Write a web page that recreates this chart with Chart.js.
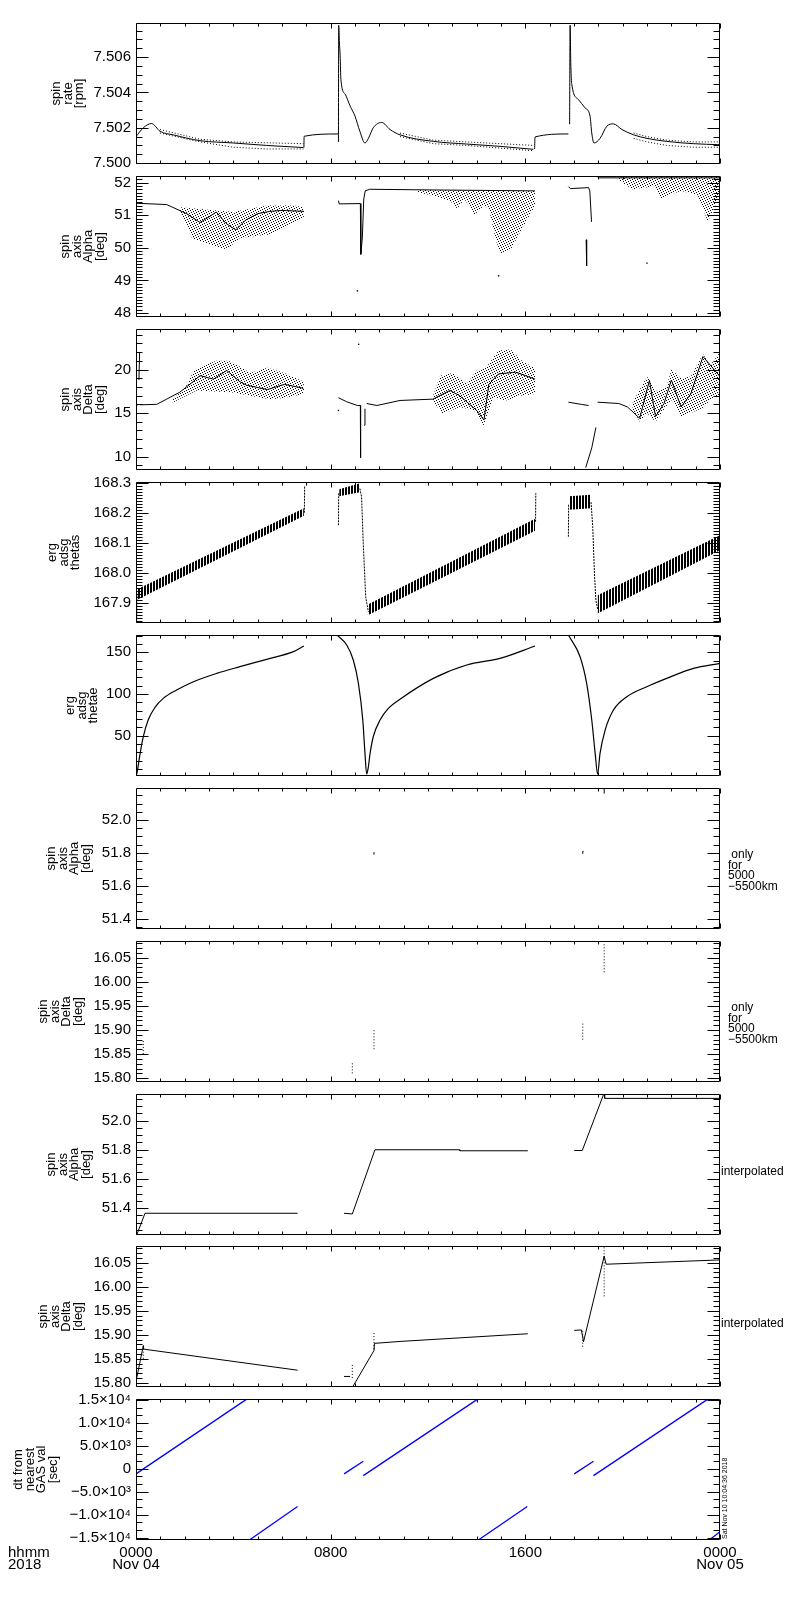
<!DOCTYPE html>
<html>
<head>
<meta charset="utf-8">
<script src="https://cdn.jsdelivr.net/npm/chart.js@4.4.1/dist/chart.umd.min.js"></script>
<style>
  html, body { margin: 0; padding: 0; background: #fff; }
  #page { position: relative; width: 800px; height: 1600px; }
  #page canvas { position: absolute; left: 0; }
</style>
</head>
<body>
<div id="page"></div>
<script>
// x is hours since 2018-11-04 00:00 UT
const hourTicks = [0, 8, 16, 24];
const hourLabels = [['0000', 'Nov 04'], ['0800'], ['1600'], ['0000', 'Nov 05']];

// --- spin rate [rpm]
const rateTicks = [7.500, 7.502, 7.504, 7.506];
const rateLabels = ['7.500', '7.502', '7.504', '7.506'];
const spinRate = [[0,7.5015],[0.3,7.5020],[0.64,7.50224],[0.99,7.5018],[1.53,7.5016],[2.63,7.50127],[4.0,7.50114],[5.37,7.5010],[6.88,7.50088],[6.89,null],
  [6.9,7.50088],[6.91,7.50152],[8.3,7.50165],[8.31,null],
  [8.32,7.5012],[8.33,7.5078],[8.36,7.5068],[8.39,7.50607],[8.42,7.50474],[8.6,7.50389],[8.8,7.50323],[9.0,7.50266],[9.2,7.5018],[9.41,7.50114],[9.55,7.5014],[9.75,7.5020],[10.1,7.5023],[10.44,7.5019],[10.85,7.5016],[12.22,7.50123],[13.59,7.50108],[14.96,7.50095],[16.33,7.50078],[16.36,null],
  [16.38,7.5008],[16.4,7.50148],[17.77,7.50165],[17.8,null],
  [17.82,7.5022],[17.84,7.5078],[17.87,7.5055],[17.91,7.50446],[18.18,7.5036],[18.45,7.50313],[18.66,7.50266],[18.73,7.5017],[18.82,7.50114],[19.07,7.5014],[19.35,7.50209],[19.62,7.50222],[19.97,7.5019],[20.45,7.5016],[21.0,7.5014],[21.81,7.50123],[22.91,7.5011],[24,7.50104]];
const spinRateHi = [[0.99,7.5019],[2.63,7.50135],[4.0,7.5012],[5.37,7.50115],[6.88,7.5011],[6.89,null],
  [10.85,7.5017],[12.22,7.5013],[13.59,7.5012],[14.96,7.5011],[16.33,7.5010],[16.34,null],
  [20.45,7.5017],[21.0,7.5015],[21.81,7.5013],[22.91,7.5012],[24,7.5012]];
const spinRateLo = [[0.99,7.5017],[2.63,7.5012],[4.0,7.5009],[5.37,7.5008],[6.88,7.5008],[6.89,null],
  [10.85,7.5015],[12.22,7.5011],[13.59,7.5010],[14.96,7.50085],[16.33,7.5007],[16.34,null],
  [20.45,7.5014],[21.0,7.5012],[21.81,7.5010],[22.91,7.5009],[24,7.5009]];

// --- spin axis Alpha [deg]
const alphaTicks = [48, 49, 50, 51, 52];
const alphaLabels = ['48', '49', '50', '51', '52'];
const spinAlpha = [[0,51.37],[1.26,51.33],[2.08,51.05],[2.63,50.78],[3.0,50.95],[3.3,51.1],[3.7,50.75],[4.1,50.55],[4.5,50.85],[5.0,51.05],[5.5,51.12],[6.0,51.15],[6.9,51.12],[6.95,null],
  [8.32,51.45],[8.35,51.35],[9.22,51.36],[9.24,49.8],[9.3,50.3],[9.36,51.5],[9.42,51.75],[9.6,51.8],[12.0,51.78],[16.4,51.75],[16.45,null],
  [17.77,51.88],[17.85,51.82],[18.6,51.85],[18.65,51.75],[18.72,50.8],[18.73,null],[18.5,50.25],[18.52,49.45],[18.53,null],
  [18.97,52.19],[19.0,52.15],[24,52.15]];
const alphaCloudHi = [[1.8,51.25],[2.63,51.19],[4.0,51.1],[5.4,51.3],[6.5,51.3],[6.9,51.25],[7,null],
  [11.5,51.78],[16.4,51.75],[17,null],
  [19.8,52.17],[24,52.17]];
const alphaCloudLo = [[1.8,51.15],[2.3,50.3],[3.0,50.1],[3.73,49.95],[4.27,50.3],[5.4,50.4],[6.1,50.6],[6.9,50.93],[7,null],
  [11.5,51.72],[12.5,51.55],[12.9,51.45],[13.2,51.2],[13.5,51.5],[13.9,51.0],[14.3,51.3],[14.5,51.2],[14.8,50.2],[15.0,49.8],[15.4,49.95],[15.8,50.5],[16.1,50.9],[16.4,51.3],[17,null],
  [19.8,52.1],[20.4,51.8],[21.0,51.85],[21.3,51.9],[21.6,51.5],[22.0,51.65],[22.4,51.75],[23.0,51.65],[23.3,51.2],[23.5,50.8],[23.8,51.3],[24,51.5]];
const alphaDots = [[9.1,48.68],[14.9,49.14],[21.0,49.53]];

// --- spin axis Delta [deg]
const deltaTicks = [10, 15, 20];
const deltaLabels = ['10', '15', '20'];
const spinDelta = [[0,15.95],[0.1,15.95],[0.11,null],[0.12,18.8],[0.15,22.0],[0.16,null],
  [0.17,15.95],[0.85,16.0],[1.26,16.6],[1.8,17.4],[2.3,18.5],[2.63,19.3],[3.18,18.9],[3.73,19.9],[4.27,18.6],[4.55,18.2],[5.4,17.7],[6.1,18.3],[6.8,17.9],[6.9,17.7],[6.95,null],
  [8.32,16.76],[8.66,16.3],[9.1,15.87],[9.22,15.87],[9.23,9.88],[9.24,null],[9.38,13.6],[9.41,15.5],[9.42,null],
  [9.48,16.1],[9.9,15.87],[10.85,16.45],[12.2,16.6],[12.9,17.6],[13.3,17.0],[14.0,15.3],[14.3,14.2],[14.5,18.3],[14.9,19.5],[15.6,19.7],[16.4,18.9],[16.45,null],
  [17.77,16.25],[18.3,16.0],[18.6,15.87],[18.61,null],[18.48,8.73],[18.73,11.0],[18.9,13.35],[18.91,null],
  [18.97,16.25],[19.84,16.1],[20.2,15.7],[20.7,14.4],[21.1,18.76],[21.35,14.6],[21.7,16.1],[22.0,18.8],[22.4,15.7],[22.8,17.2],[23.3,21.5],[24,19.2]];
const deltaCloudHi = [[1.5,16.6],[2.0,17.8],[2.4,20.0],[3.3,21.0],[3.8,21.0],[4.3,20.3],[4.7,19.6],[5.4,20.2],[6.1,19.6],[6.9,18.6],[7,null],
  [12.2,16.9],[12.5,19.3],[13.0,19.6],[13.6,18.4],[14.0,19.9],[14.4,20.3],[14.9,22.2],[15.4,22.3],[15.9,20.9],[16.4,20.2],[17,null],
  [20.4,16.2],[21.0,19.2],[21.4,17.5],[21.8,18.0],[22.0,20.0],[22.4,19.0],[22.8,19.2],[23.3,21.8],[23.6,20.5],[24,22.0]];
const deltaCloudLo = [[1.5,16.2],[2.0,16.9],[2.5,17.6],[3.0,17.5],[3.9,17.4],[4.7,17.0],[5.5,16.6],[6.0,16.7],[6.9,17.2],[7,null],
  [12.2,16.4],[12.6,14.9],[13.3,15.7],[13.9,15.3],[14.3,13.55],[14.7,16.8],[15.2,16.45],[15.8,17.0],[16.4,17.2],[17,null],
  [20.4,15.5],[20.7,14.0],[21.0,15.0],[21.35,14.0],[21.8,15.8],[22.0,16.5],[22.4,14.6],[22.8,15.0],[23.3,15.6],[23.6,16.5],[24,17.0]];
const deltaDots = [[9.15,22.9],[8.32,15.3]];

// --- erg adsg thetas
const thetasTicks = [167.9, 168.0, 168.1, 168.2, 168.3];
const thetasLabels = ['167.9', '168.0', '168.1', '168.2', '168.3'];
const thetasLine = [[0.03,167.835],[0.04,167.93],[0.05,null],[6.92,168.2],[6.93,168.29],[6.94,null],
  [8.32,168.158],[8.33,168.265],[8.34,null],[9.2,168.28],[9.27,168.253],[9.34,168.097],[9.44,167.919],[9.55,167.87],[9.56,null],
  [16.42,168.17],[16.43,168.265],[16.44,null],[17.77,168.12],[17.78,168.23],[17.79,null],
  [18.7,168.235],[18.77,168.153],[18.84,167.997],[18.9,167.908],[18.97,167.88]];
const thetasHi = [[0.05,167.945],[6.9,168.215],[7,null],[8.35,168.278],[9.2,168.298],[9.3,null],[9.55,167.895],[16.4,168.18],[17,null],
  [17.8,168.255],[18.7,168.26],[18.8,null],[18.97,167.925],[24,168.125]];
const thetasLo = [[0.05,167.91],[6.9,168.19],[7,null],[8.35,168.255],[9.2,168.268],[9.3,null],[9.55,167.86],[16.4,168.14],[17,null],
  [17.8,168.21],[18.7,168.215],[18.8,null],[18.97,167.865],[24,168.075]];

// --- erg adsg thetae
const thetaeTicks = [50, 100, 150];
const thetaeLabels = ['50', '100', '150'];
const thetae = [[0.0,2],[0.03,4],[0.17,28.8],[0.3,48.8],[0.5,68.8],[0.78,84],[1.12,94.8],[1.67,104.8],[2.36,114.8],[3.32,124.8],[4.27,132.8],[5.37,141.6],[6.47,150.8],[6.9,157.6],[6.95,null],
  [8.25,171],[8.66,158.8],[8.93,140.8],[9.14,112.8],[9.32,68.8],[9.41,28.8],[9.48,4],[9.55,12.8],[9.62,28.8],[9.75,48.8],[10.03,68.8],[10.37,82.8],[10.85,93.8],[12.22,118.8],[13.59,134.8],[14.96,142.8],[16.4,157.6],[16.45,null],
  [17.77,170.7],[18.25,144.7],[18.52,112.8],[18.73,68.8],[18.87,28.9],[18.97,4],[19.07,28.9],[19.28,56.8],[19.62,80.8],[20.17,96.8],[20.99,108.8],[21.81,118.8],[22.91,130.8],[24,136.8]];

// --- spin axis only for 5000-5500 km, and interpolated
const alphaFineTicks = [51.4, 51.6, 51.8, 52.0];
const alphaFineLabels = ['51.4', '51.6', '51.8', '52.0'];
const deltaFineTicks = [15.80, 15.85, 15.90, 15.95, 16.00, 16.05];
const deltaFineLabels = ['15.80', '15.85', '15.90', '15.95', '16.00', '16.05'];
const onlyAlpha = [[9.78,51.79],[9.78,51.805],[9.79,null],[18.36,51.795],[18.36,51.81],[18.39,51.81],[18.4,null],[19.24,52.16],[19.24,52.2]];
const onlyDelta = [[0.3,15.85],[0.3,15.88],[0.31,null],[8.89,15.81],[8.89,15.835],[8.9,null],[9.78,15.86],[9.78,15.90],[9.79,null],
  [18.36,15.88],[18.36,15.915],[18.37,null],[19.24,16.02],[19.24,16.08]];
const interpAlpha = [[0.03,51.216],[0.37,51.365],[6.64,51.365],[6.65,null],[8.55,51.365],[8.89,51.36],[9.82,51.8],[13.3,51.8],[13.31,51.793],[16.1,51.793],[16.11,null],
  [18.01,51.795],[18.34,51.795],[19.24,52.19],[19.26,52.152],[24,52.152]];
const interpDelta = [[0.03,15.81],[0.3,15.877],[0.31,15.87],[6.64,15.826],[6.65,null],[8.55,15.813],[8.8,15.813],[8.81,null],
  [8.89,15.79],[9.78,15.867],[9.8,15.882],[10.85,15.886],[16.1,15.902],[16.11,null],
  [18.01,15.909],[18.3,15.91],[18.36,15.895],[18.39,15.885],[19.24,16.064],[19.32,16.047],[24,16.056]];
const interpDeltaTicks = [[0.3,15.85],[0.3,15.88],[0.31,null],[8.89,15.81],[8.89,15.84],[8.9,null],[9.78,15.87],[9.78,15.905],[9.79,null],
  [18.36,15.875],[18.36,15.91],[18.37,null],[19.24,15.98],[19.24,16.085]];

// --- dt from nearest GAS val [sec]
const dtTicks = [-15000, -10000, -5000, 0, 5000, 10000, 15000];
const dtLabels = ['\u22121.5\u00d710\u2074', '\u22121.0\u00d710\u2074', '\u22125.0\u00d710\u00b3', '0', '5.0\u00d710\u00b3', '1.0\u00d710\u2074', '1.5\u00d710\u2074'];
const dtNearest = [[0,-1100],[4.55,15200],[4.56,null],[4.66,-15500],[6.64,-8207],[6.65,null],
  [8.55,-1100],[9.34,1670],[9.345,null],[9.34,-1470],[14.04,15200],[14.05,null],[14.07,-15500],[16.08,-8207],[16.09,null],
  [18.01,-1100],[18.8,1670],[18.805,null],[18.8,-1470],[23.5,15200],[23.51,null],[23.56,-15500],[24,-13700]];

const FONT = "'Liberation Sans', Arial, sans-serif";
Chart.defaults.font.family = FONT;
Chart.defaults.color = '#000';

const PAD = 16;
const PLOT_H = 141;

function pattern(w, h, cells) {
  const c = document.createElement('canvas');
  c.width = w; c.height = h;
  const g = c.getContext('2d');
  g.fillStyle = '#000';
  cells.forEach(([i, j]) => g.fillRect(i, j, 1, 1));
  return g.createPattern(c, 'repeat');
}
const cloudFill = pattern(5, 5, [[0,0],[3,1],[1,2],[4,3],[2,4]]);
const hatchFill = pattern(3, 1, [[0,0],[1,0]]);

const pts = a => a.map(([x, y]) => ({x, y}));
const pieces = a => {
  const out = [[]];
  a.forEach(p => p[1] === null ? out.push([]) : out[out.length - 1].push(p));
  return out.filter(s => s.length);
};
function line(a, extra) {
  return Object.assign({data: pts(a), borderColor: '#000', borderWidth: 1, pointRadius: 0, fill: false, tension: 0}, extra || {});
}
const dotted = {borderDash: [1, 2]};
const smooth = {cubicInterpolationMode: 'monotone'};
function band(hi, lo, fill) {
  const lows = pieces(lo);
  return pieces(hi).flatMap((seg, i) => [
    line(seg, {borderColor: 'rgba(0,0,0,0)', fill: '+1', backgroundColor: fill}),
    line(lows[i], {borderColor: 'rgba(0,0,0,0)'})
  ]);
}
function dots(a) {
  return line(a, {showLine: false, pointRadius: 1, pointStyle: 'rect', pointBackgroundColor: '#000', pointBorderWidth: 0});
}

const panels = [
  {top: 23, min: 7.49995, max: 7.50793, ticks: rateTicks, labels: rateLabels, minor: 0.0005,
   title: ['spin', 'rate', '[rpm]'], titleX: 56,
   sets: [line(spinRate, smooth), line(spinRateHi, dotted), line(spinRateLo, dotted)]},
  {top: 176, min: 47.876, max: 52.207, ticks: alphaTicks, labels: alphaLabels, minor: 0.1,
   title: ['spin', 'axis', 'Alpha', '[deg]'], titleX: 65,
   sets: [line(spinAlpha), dots(alphaDots), ...band(alphaCloudHi, alphaCloudLo, cloudFill)]},
  {top: 329, min: 8.46, max: 24.66, ticks: deltaTicks, labels: deltaLabels, minor: 1,
   title: ['spin', 'axis', 'Delta', '[deg]'], titleX: 65,
   sets: [line(spinDelta), dots(deltaDots), ...band(deltaCloudHi, deltaCloudLo, cloudFill)]},
  {top: 482, min: 167.833, max: 168.302, ticks: thetasTicks, labels: thetasLabels, minor: 0.01,
   title: ['erg', 'adsg', 'thetas'], titleX: 52,
   sets: [line(thetasLine, {borderDash: [2, 1]}), ...band(thetasHi, thetasLo, hatchFill)]},
  {top: 635, min: 1.7, max: 170.8, ticks: thetaeTicks, labels: thetaeLabels, minor: 10,
   title: ['erg', 'adsg', 'thetae'], titleX: 70,
   sets: [line(thetae, Object.assign({borderWidth: 1.2}, smooth))]},
  {top: 788, min: 51.339, max: 52.194, ticks: alphaFineTicks, labels: alphaFineLabels, minor: 0.05,
   title: ['spin', 'axis', 'Alpha', '[deg]'], titleX: 51,
   note: [' only', 'for', '5000', '\u22125500km'], noteDy: -4,
   sets: [line(onlyAlpha)]},
  {top: 941, min: 15.792, max: 16.085, ticks: deltaFineTicks, labels: deltaFineLabels, minor: 0.01,
   title: ['spin', 'axis', 'Delta', '[deg]'], titleX: 43,
   note: [' only', 'for', '5000', '\u22125500km'], noteDy: -4,
   sets: [line(onlyDelta, dotted)]},
  {top: 1094, min: 51.216, max: 52.182, ticks: alphaFineTicks, labels: alphaFineLabels, minor: 0.05,
   title: ['spin', 'axis', 'Alpha', '[deg]'], titleX: 51,
   note: ['interpolated'], noteDy: 7, noteX: 721,
   sets: [line(interpAlpha)]},
  {top: 1246, min: 15.791, max: 16.085, ticks: deltaFineTicks, labels: deltaFineLabels, minor: 0.01,
   title: ['spin', 'axis', 'Delta', '[deg]'], titleX: 43,
   note: ['interpolated'], noteDy: 7, noteX: 721,
   sets: [line(interpDelta), line(interpDeltaTicks, dotted)]},
  {top: 1399, min: -15505, max: 15220, ticks: dtTicks, labels: dtLabels, minor: 5000 / 3,
   title: ['dt from', 'nearest', 'GAS val', '[sec]'], titleX: 18,
   sets: [line(dtNearest, {borderColor: '#0000ff', borderWidth: 1.3})]}
];

// IDL-style frame: inward ticks on all four sides, side notes, footer text
const idlFrame = {
  id: 'idl',
  afterDatasetsDraw(chart, args, o) {
    const {ctx, chartArea: a, scales: {x, y}} = chart;
    const L = a.left + 0.5, R = a.right - 0.5, T = a.top + 0.5, B = a.bottom - 0.5;
    ctx.save();
    ctx.strokeStyle = '#000';
    ctx.lineWidth = 1;
    ctx.beginPath();
    ctx.rect(L, T, R - L, B - T);
    const yTick = (v, len) => {
      const py = Math.round(y.getPixelForValue(v)) + 0.5;
      ctx.moveTo(L, py); ctx.lineTo(L + len, py);
      ctx.moveTo(R, py); ctx.lineTo(R - len, py);
    };
    y.ticks.forEach(t => yTick(t.value, 12));
    for (let k = Math.ceil(y.min / o.minor - 1e-6); k * o.minor <= y.max + 1e-9; k++) yTick(k * o.minor, 6);
    for (let hr = 0; hr <= 24; hr++) {
      const px = Math.round(x.getPixelForValue(hr)) + 0.5;
      const len = hr % 8 ? 3 : 5;
      ctx.moveTo(px, T); ctx.lineTo(px, T + len);
      ctx.moveTo(px, B); ctx.lineTo(px, B - len);
    }
    ctx.stroke();

    ctx.fillStyle = '#000';
    ctx.textBaseline = 'middle';
    ctx.textAlign = 'left';
    if (o.note) {
      ctx.font = '12px ' + FONT;
      const mid = (a.top + a.bottom) / 2 + o.noteDy;
      o.note.forEach((s, k) => ctx.fillText(s, o.noteX || 728, mid + k * 10.7));
    }
    if (o.footer) {
      ctx.font = '15px ' + FONT;
      ctx.fillText('hhmm', 8, a.bottom + 13);
      ctx.fillText('2018', 8, a.bottom + 25);
      ctx.save();
      ctx.translate(725, a.bottom - 1);
      ctx.rotate(-Math.PI / 2);
      ctx.font = '7px ' + FONT;
      ctx.fillText('Sat Nov 10 10:04:36 2018', 0, 0);
      ctx.restore();
    }
    ctx.restore();
  }
};

const page = document.getElementById('page');
panels.forEach((p, i) => {
  const last = i === panels.length - 1;
  const h = PAD + PLOT_H + (last ? 50 : PAD);
  const cv = document.createElement('canvas');
  cv.width = 800; cv.height = h;
  cv.style.width = '800px'; cv.style.height = h + 'px';
  cv.style.top = (p.top - PAD) + 'px';
  page.appendChild(cv);

  new Chart(cv, {
    type: 'line',
    data: {datasets: p.sets},
    options: {
      responsive: false,
      maintainAspectRatio: false,
      animation: false,
      devicePixelRatio: 1,
      layout: {padding: {left: 0, right: 80, top: PAD, bottom: last ? 0 : PAD}},
      plugins: {
        legend: {display: false},
        tooltip: {enabled: false},
        idl: {minor: p.minor, note: p.note, noteDy: p.noteDy, noteX: p.noteX, footer: last}
      },
      scales: {
        x: {
          type: 'linear', min: 0, max: 24, display: last,
          afterBuildTicks: s => { s.ticks = hourTicks.map(v => ({value: v})); },
          afterFit: s => { s.height = last ? 50 : 0; },
          grid: {display: false, drawTicks: false},
          border: {display: false},
          ticks: {autoSkip: false, maxRotation: 0, padding: 7, font: {size: 15, lineHeight: 0.8},
                  callback: (v, k) => hourLabels[k]}
        },
        y: {
          type: 'linear', min: p.min, max: p.max,
          afterBuildTicks: s => { s.ticks = p.ticks.map(v => ({value: v})); },
          afterFit: s => { s.width = 136; },
          grid: {display: false, drawTicks: false},
          border: {display: false},
          ticks: {autoSkip: false, padding: 5, font: {size: 15}, callback: (v, k) => p.labels[k]},
          title: {display: true, text: p.title, font: {size: 13, lineHeight: 0.92},
                  padding: {top: p.titleX - 6, bottom: 0}}
        }
      }
    },
    plugins: [idlFrame]
  });
});
</script>
</body>
</html>
